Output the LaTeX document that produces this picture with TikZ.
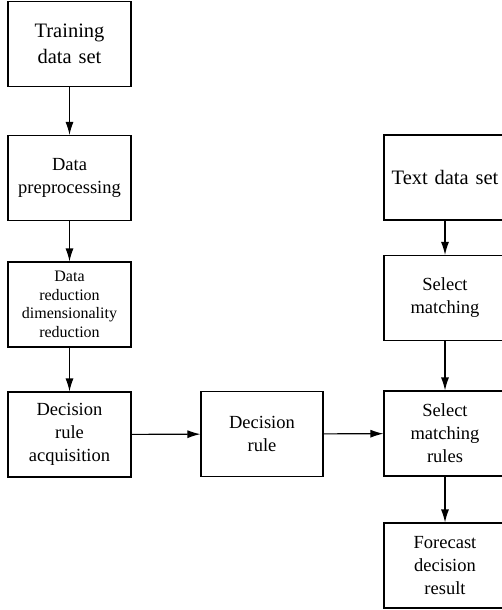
\documentclass[tikz,border=0pt]{standalone}
\usepackage{fontspec}
\setmainfont{Liberation Serif}
\usetikzlibrary{arrows.meta}
\begin{document}
\begin{tikzpicture}[x=1pt,y=-1pt,
  box/.style={draw, line width=1.1pt, minimum width=123pt, minimum height=85pt,
    inner sep=0pt, align=center, text width=120pt,
    font=\fontsize{18.5}{23}\selectfont},
  bigtext/.style={font=\fontsize{20.5}{26}\selectfont},
  smalltext/.style={font=\fontsize{16}{18.5}\selectfont},
  link/.style={line width=1.1pt, -{Latex[length=13pt,width=8pt]}}]
\useasboundingbox (0,0) rectangle (502,610);
% left column
\node[box, bigtext] (train) at (69.5,44) {Training\\data set};
\node[box] (prep) at (69.5,178) {Data\\preprocessing};
\node[box, smalltext] (reduc) at (69.5,304.5) {Data\\reduction\\dimensionality\\reduction};
\node[box] (acq) at (69.5,434.5) {Decision\\rule\\acquisition};
% middle
\node[box, minimum width=122pt] (rule) at (262,434) {Decision\\rule};
% right column
\node[box, bigtext, minimum width=122pt] (text) at (445,177.5) {Text data set};
\node[box, minimum width=122pt] (sel) at (445,298) {Select\\matching};
\node[box, minimum width=122pt] (smr) at (445,433.5) {Select\\matching\\rules};
\node[box, minimum width=122pt] (fore) at (445,565.5) {Forecast\\decision\\result};
% connectors
\draw[link] (train) -- (prep);
\draw[link] (prep) -- (reduc);
\draw[link] (reduc) -- (acq);
\draw[link] (acq) -- (rule);
\draw[link] (rule) -- (smr);
\draw[link] (text) -- (sel);
\draw[link] (sel) -- (smr);
\draw[link] (smr) -- (fore);
\end{tikzpicture}
\end{document}
